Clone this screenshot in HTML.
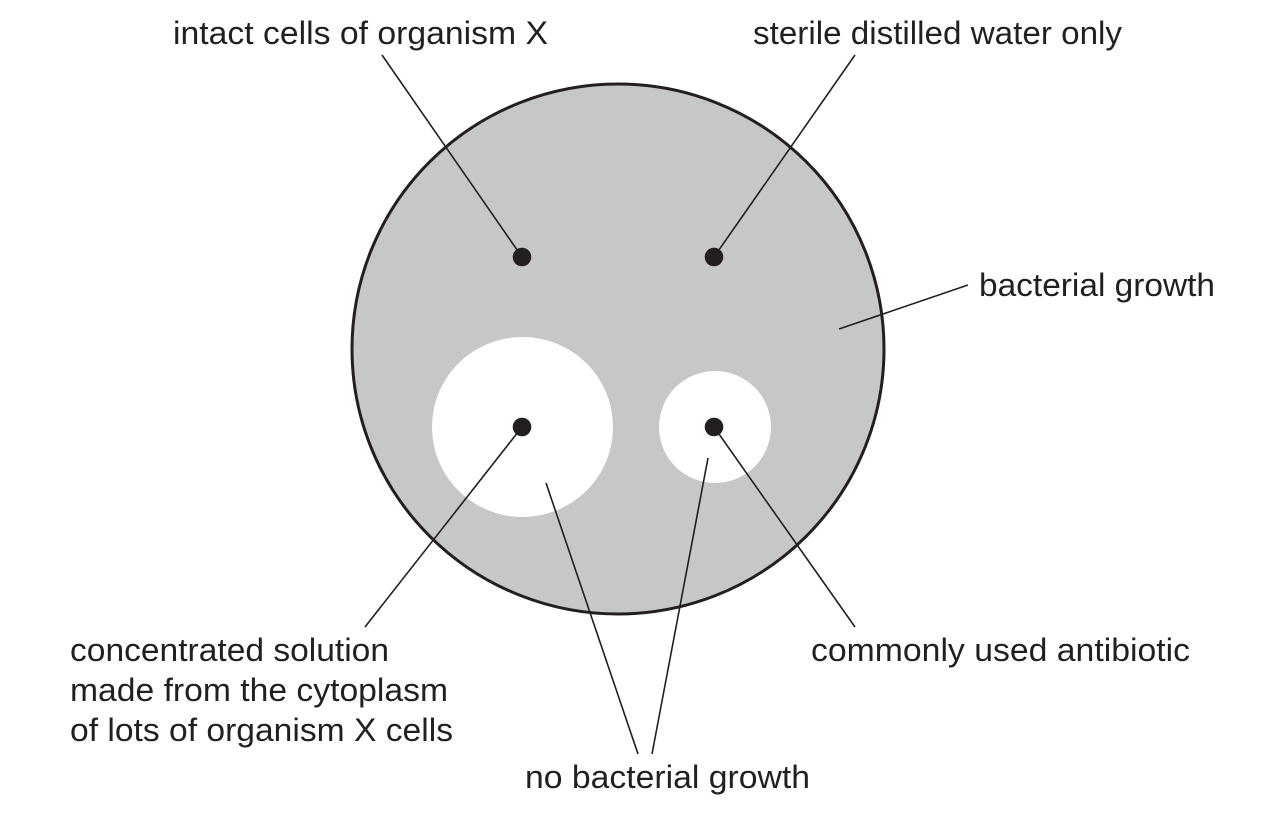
<!DOCTYPE html>
<html>
<head>
<meta charset="utf-8">
<style>
  html, body { margin: 0; padding: 0; background: #ffffff; }
  svg { display: block; }
  text { font-family: "Liberation Sans", Arial, sans-serif; font-size: 32px; fill: #231f20; }
</style>
</head>
<body>
<svg width="1269" height="818" viewBox="0 0 1269 818" xmlns="http://www.w3.org/2000/svg">
  <rect x="0" y="0" width="1269" height="818" fill="#ffffff"/>

  <!-- petri dish -->
  <ellipse cx="618" cy="349" rx="266" ry="265" fill="#c6c7c9" stroke="#231f20" stroke-width="3"/>

  <!-- clear zones -->
  <ellipse cx="522.5" cy="427" rx="90.5" ry="90" fill="#ffffff"/>
  <ellipse cx="715" cy="427" rx="56" ry="56" fill="#ffffff"/>

  <!-- leader lines -->
  <g stroke="#231f20" stroke-width="1.6" fill="none" stroke-linecap="butt">
    <line x1="382" y1="55" x2="522" y2="257"/>
    <line x1="855" y1="55" x2="714" y2="257"/>
    <line x1="968" y1="285" x2="839" y2="329"/>
    <line x1="522" y1="427" x2="365" y2="627"/>
    <line x1="714" y1="427" x2="855" y2="627"/>
    <line x1="546" y1="483" x2="638" y2="754"/>
    <line x1="708" y1="458" x2="652" y2="754"/>
  </g>

  <!-- dots -->
  <g fill="#231f20">
    <circle cx="522" cy="257" r="9.3"/>
    <circle cx="714" cy="257" r="9.3"/>
    <circle cx="522" cy="427" r="9.3"/>
    <circle cx="714" cy="427" r="9.3"/>
  </g>

  <!-- labels -->
  <text x="173" y="44" textLength="375" lengthAdjust="spacingAndGlyphs">intact cells of organism X</text>
  <text x="753" y="44" textLength="369" lengthAdjust="spacingAndGlyphs">sterile distilled water only</text>
  <text x="979" y="296" textLength="236" lengthAdjust="spacingAndGlyphs">bacterial growth</text>
  <text x="70" y="661" textLength="319" lengthAdjust="spacingAndGlyphs">concentrated solution</text>
  <text x="70" y="701" textLength="378" lengthAdjust="spacingAndGlyphs">made from the cytoplasm</text>
  <text x="70" y="741" textLength="383" lengthAdjust="spacingAndGlyphs">of lots of organism X cells</text>
  <text x="811" y="661" textLength="379" lengthAdjust="spacingAndGlyphs">commonly used antibiotic</text>
  <text x="525" y="788" textLength="285" lengthAdjust="spacingAndGlyphs">no bacterial growth</text>
</svg>
</body>
</html>
